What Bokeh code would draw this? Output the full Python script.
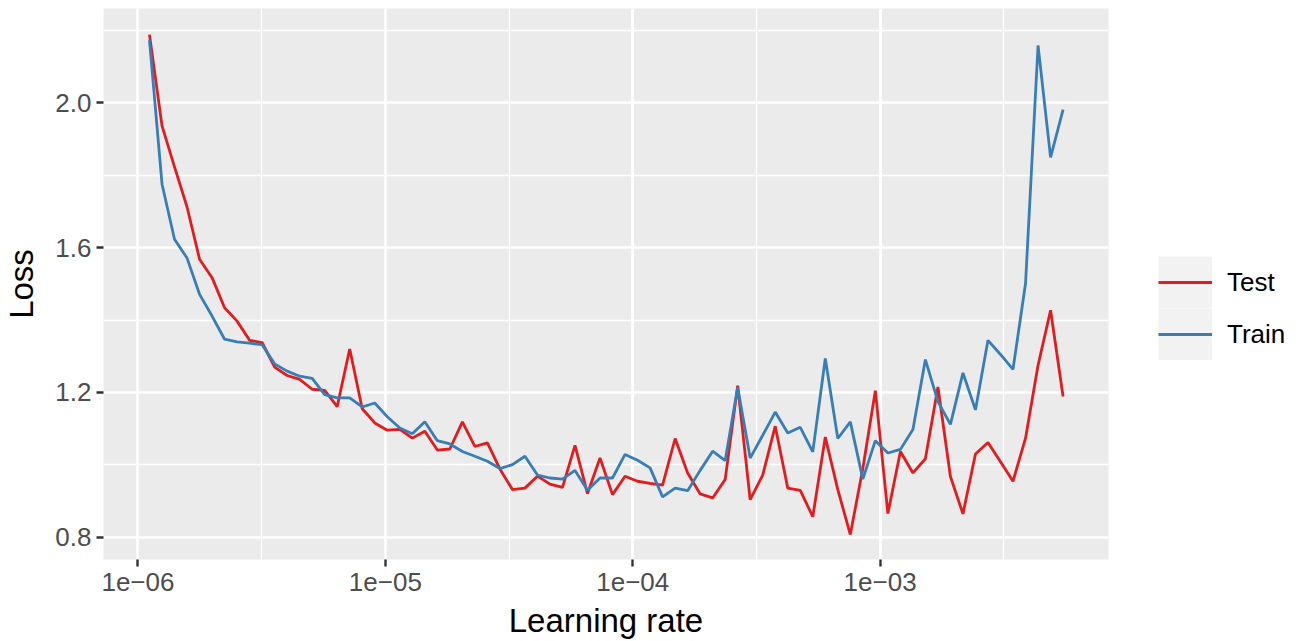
from bokeh.plotting import figure
from bokeh.layouts import row
from bokeh.models import (FixedTicker, PrintfTickFormatter, CustomJSTickFormatter,
                          Grid, Legend, LegendItem, Range1d)
from bokeh.embed import file_html
from bokeh.resources import INLINE

# ---------------- data ----------------
lr = [1.113e-6, 1.251e-6, 1.405e-6, 1.579e-6, 1.774e-6, 1.993e-6, 2.239e-6, 2.515e-6,
      2.826e-6, 3.175e-6, 3.568e-6, 4.009e-6, 4.504e-6, 5.061e-6, 5.686e-6, 6.387e-6,
      7.177e-6, 8.063e-6, 9.060e-6, 1.018e-5, 1.144e-5, 1.285e-5, 1.444e-5, 1.622e-5,
      1.823e-5, 2.048e-5, 2.301e-5, 2.585e-5, 2.904e-5, 3.263e-5, 3.666e-5, 4.119e-5,
      4.628e-5, 5.200e-5, 5.843e-5, 6.563e-5, 7.374e-5, 8.285e-5, 9.309e-5, 1.046e-4,
      1.175e-4, 1.320e-4, 1.484e-4, 1.667e-4, 1.873e-4, 2.104e-4, 2.364e-4, 2.656e-4,
      2.984e-4, 3.353e-4, 3.767e-4, 4.233e-4, 4.756e-4, 5.343e-4, 6.003e-4, 6.744e-4,
      7.577e-4, 8.514e-4, 9.565e-4, 1.075e-3, 1.208e-3, 1.357e-3, 1.524e-3, 1.713e-3,
      1.924e-3, 2.162e-3, 2.429e-3, 2.729e-3, 3.066e-3, 3.445e-3, 3.871e-3, 4.349e-3,
      4.887e-3, 5.490e-3]

test_loss = [2.188, 1.936, 1.823, 1.712, 1.568, 1.517, 1.434, 1.397, 1.344, 1.338,
             1.270, 1.247, 1.236, 1.209, 1.206, 1.161, 1.320, 1.155, 1.116, 1.096,
             1.098, 1.074, 1.093, 1.041, 1.044, 1.119, 1.051, 1.061, 0.989, 0.932,
             0.936, 0.969, 0.947, 0.938, 1.054, 0.921, 1.019, 0.918, 0.969, 0.955,
             0.949, 0.944, 1.073, 0.978, 0.920, 0.909, 0.960, 1.219, 0.904, 0.972,
             1.107, 0.936, 0.930, 0.857, 1.077, 0.932, 0.808, 0.990, 1.205, 0.866,
             1.037, 0.978, 1.017, 1.215, 0.968, 0.865, 1.030, 1.062, 1.009, 0.955,
             1.074, 1.275, 1.427, 1.189]

train_loss = [2.173, 1.775, 1.623, 1.571, 1.471, 1.411, 1.347, 1.340, 1.336, 1.332,
              1.279, 1.259, 1.245, 1.239, 1.194, 1.185, 1.185, 1.160, 1.171, 1.133,
              1.102, 1.086, 1.119, 1.067, 1.058, 1.037, 1.024, 1.010, 0.990, 1.001,
              1.024, 0.972, 0.964, 0.961, 0.985, 0.930, 0.964, 0.964, 1.029, 1.013,
              0.992, 0.912, 0.936, 0.929, 0.985, 1.038, 1.012, 1.214, 1.019, 1.082,
              1.146, 1.088, 1.104, 1.036, 1.294, 1.073, 1.119, 0.961, 1.067, 1.033,
              1.043, 1.098, 1.291, 1.175, 1.112, 1.254, 1.152, 1.344, 1.305, 1.264,
              1.501, 2.158, 1.849, 1.981]

series_names = ["Test", "Train"]
series_colors = ["#E41A1C", "#377EB8"]

x_major = [1e-6, 1e-5, 1e-4, 1e-3]
x_minor = [3.162e-6, 3.162e-5, 3.162e-4, 3.162e-3]
y_major = [0.8, 1.2, 1.6, 2.0]
y_minor = [1.0, 1.4, 1.8, 2.2]

x_title = "Learning rate"
y_title = "Loss"

# ---------------- main figure ----------------
FONT = "Liberation Sans"
TICK_FS = "26px"
TITLE_FS = "33px"
LINE_W = 2.8

p = figure(width=1140, height=641, x_axis_type="log",
           x_range=Range1d(7.255e-7, 8.379e-3), y_range=Range1d(0.739, 2.260),
           output_backend="svg", toolbar_location=None,
           min_border_left=102, min_border_right=32, min_border_top=8,
           min_border_bottom=82)

p.background_fill_color = "#EBEBEB"
p.border_fill_color = "white"
p.outline_line_color = None

# grids
p.xgrid.ticker = FixedTicker(ticks=x_major)
p.ygrid.ticker = FixedTicker(ticks=y_major)
for g in (p.xgrid[0], p.ygrid[0]):
    g.grid_line_color = "white"
    g.grid_line_width = 2.7
p.add_layout(Grid(dimension=0, ticker=FixedTicker(ticks=x_minor),
                  grid_line_color="white", grid_line_width=1.35))
p.add_layout(Grid(dimension=1, ticker=FixedTicker(ticks=y_minor),
                  grid_line_color="white", grid_line_width=1.35))

# axes
p.xaxis.ticker = FixedTicker(ticks=x_major)
p.xaxis.formatter = CustomJSTickFormatter(code="""
    const e = Math.round(Math.log10(tick));
    const s = String(Math.abs(e)).padStart(2, "0");
    return "1e" + (e < 0 ? "\\u2212" : "+") + s;
""")
p.yaxis.ticker = FixedTicker(ticks=y_major)
p.yaxis.formatter = PrintfTickFormatter(format="%.1f")
p.xaxis.axis_label = x_title
p.yaxis.axis_label = y_title

for ax in (p.xaxis[0], p.yaxis[0]):
    ax.axis_line_color = None
    ax.major_tick_line_color = "#333333"
    ax.major_tick_line_width = 2.4
    ax.major_tick_in = 0
    ax.major_tick_out = 7
    ax.minor_tick_line_color = None
    ax.major_label_text_font = FONT
    ax.major_label_text_font_size = TICK_FS
    ax.major_label_text_color = "#4D4D4D"
    ax.axis_label_text_font = FONT
    ax.axis_label_text_font_size = TITLE_FS
    ax.axis_label_text_font_style = "normal"
    ax.axis_label_text_color = "black"

p.xaxis.major_label_standoff = 6
p.xaxis.axis_label_standoff = 8
p.yaxis.major_label_standoff = 5
p.yaxis.axis_label_standoff = 12

# data lines (Train drawn on top, as in the reference)
p.line(lr, test_loss, line_color=series_colors[0], line_width=LINE_W)
p.line(lr, train_loss, line_color=series_colors[1], line_width=LINE_W)

# ---------------- legend panel (separate figure on the right) ----------------
lg = figure(width=160, height=641, x_range=Range1d(0, 1), y_range=Range1d(0, 1),
            x_axis_location=None, y_axis_location=None,
            output_backend="svg", toolbar_location=None,
            min_border_left=0, min_border_right=0, min_border_top=0,
            min_border_bottom=0)
lg.outline_line_color = None
lg.background_fill_color = "white"
lg.border_fill_color = "white"
lg.xgrid.visible = False
lg.ygrid.visible = False

# legend proxies: a zero-length segment (grey key box) and one-point lines
key_bg = lg.segment(x0=[0.5], y0=[0.5], x1=[0.5], y1=[0.5],
                    line_color="#F2F2F2", line_width=52, line_cap="butt")
proxies = [lg.line(x=[0.5], y=[0.5], line_color=c, line_width=LINE_W)
           for c in series_colors]

legend = Legend(items=[LegendItem(label=name, renderers=[key_bg, r])
                       for name, r in zip(series_names, proxies)],
                location=(18, 199), glyph_width=54, glyph_height=52,
                label_standoff=15, spacing=0, padding=0, margin=0,
                border_line_color=None, background_fill_alpha=0,
                label_text_font=FONT, label_text_font_size=TICK_FS,
                label_text_color="black")
lg.add_layout(legend)

layout = row(p, lg, spacing=0)

with open("out.html", "w", encoding="utf-8") as f:
    f.write(file_html(layout, INLINE))
